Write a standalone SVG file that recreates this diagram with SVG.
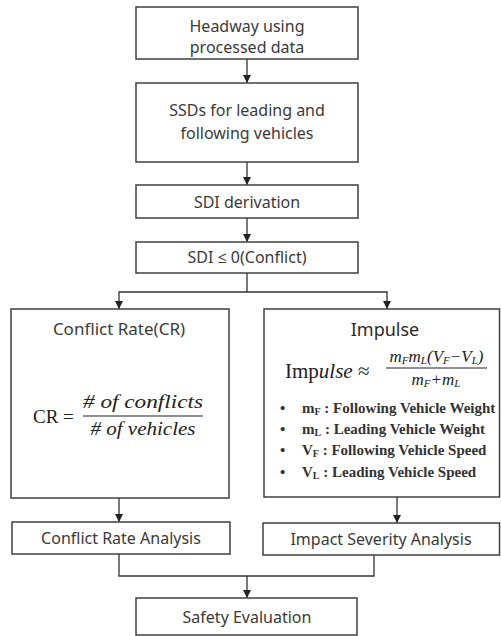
<svg xmlns="http://www.w3.org/2000/svg" width="501" height="636" viewBox="0 0 501 636">
<defs>
<marker id="arr" markerUnits="userSpaceOnUse" markerWidth="8" markerHeight="9" refX="8" refY="4" orient="auto" viewBox="0 0 8 8">
<path d="M0,0 L8,4 L0,8 Z" fill="#222"/>
</marker>
<style>
.box{fill:#fff;stroke:#404040;stroke-width:1.5}
.lbl{font-family:"Noto Sans","Open Sans",sans-serif;font-size:16px;fill:#3a3a3a;text-anchor:middle}
.ttl{font-family:"Noto Sans","Open Sans",sans-serif;font-size:18px;fill:#2a2a2a;text-anchor:middle}
.math{font-family:"Liberation Serif","DejaVu Serif",serif;fill:#222}
.it{font-style:italic}
.bul{font-family:"Liberation Serif","DejaVu Serif",serif;font-size:15px;font-weight:bold;fill:#333}
.sub{font-size:10px}
.msub{font-size:11px}
.con{fill:none;stroke:#333;stroke-width:1.3}
</style>
</defs>
<g id="connectors">
<path class="con" d="M247,59 V83" marker-end="url(#arr)"/>
<path class="con" d="M247,162 V185" marker-end="url(#arr)"/>
<path class="con" d="M247,218 V242" marker-end="url(#arr)"/>
<path class="con" d="M247,273 V292"/>
<path class="con" d="M247,292 H119 V309" marker-end="url(#arr)"/>
<path class="con" d="M247,292 H387 V309" marker-end="url(#arr)"/>
<path class="con" d="M119,498 V522" marker-end="url(#arr)"/>
<path class="con" d="M397,497 V523" marker-end="url(#arr)"/>
<path class="con" d="M119,554 V576 H374 V555"/>
<path class="con" d="M247,576 V598" marker-end="url(#arr)"/>
</g>
<g id="headway">
<rect class="box" x="136" y="7" width="222" height="52"/>
<text class="lbl" x="247" y="32">Headway using</text>
<text class="lbl" x="247" y="53">processed data</text>
</g>
<g id="ssds">
<rect class="box" x="136" y="83" width="222" height="79"/>
<text class="lbl" x="247" y="116">SSDs for leading and</text>
<text class="lbl" x="247" y="139">following vehicles</text>
</g>
<g id="sdi-derivation">
<rect class="box" x="136" y="185" width="222" height="33"/>
<text class="lbl" x="247" y="208">SDI derivation</text>
</g>
<g id="sdi-conflict">
<rect class="box" x="136" y="242" width="222" height="31"/>
<text class="lbl" x="247" y="263">SDI ≤ 0(Conflict)</text>
</g>
<g id="conflict-rate">
<rect class="box" x="11" y="309" width="218" height="189"/>
<text class="lbl" x="119" y="335" style="font-size:17px">Conflict Rate(CR)</text>
<text class="math" x="33" y="423" style="font-size:19px">CR =</text>
<text class="math it" x="143" y="408" style="font-size:18px;text-anchor:middle" textLength="120" lengthAdjust="spacingAndGlyphs"># of conflicts</text>
<line x1="83" y1="416" x2="203" y2="416" stroke="#222" stroke-width="1.2"/>
<text class="math it" x="143" y="435" style="font-size:18px;text-anchor:middle" textLength="105" lengthAdjust="spacingAndGlyphs"># of vehicles</text>
</g>
<g id="impulse">
<rect class="box" x="264" y="309" width="235.5" height="188"/>
<text class="ttl" x="385" y="336">Impulse</text>
<text class="math" x="285" y="378" style="font-size:21px">Imp<tspan class="it">ulse</tspan> ≈</text>
<text class="math it" x="436.5" y="362" style="font-size:17px;text-anchor:middle">m<tspan dy="2" class="msub">F</tspan><tspan dy="-2">m</tspan><tspan dy="2" class="msub">L</tspan><tspan dy="-2">(V</tspan><tspan dy="2" class="msub">F</tspan><tspan dy="-2">−V</tspan><tspan dy="2" class="msub">L</tspan><tspan dy="-2">)</tspan></text>
<line x1="386" y1="368" x2="487" y2="368" stroke="#222" stroke-width="1"/>
<text class="math it" x="436" y="385" style="font-size:17px;text-anchor:middle">m<tspan dy="2" class="msub">F</tspan><tspan dy="-2">+m</tspan><tspan dy="2" class="msub">L</tspan></text>
<text class="bul" x="280" y="413">•</text>
<text class="bul" x="302" y="413">m<tspan dy="2" class="sub">F</tspan><tspan dy="-2"> : Following Vehicle Weight</tspan></text>
<text class="bul" x="280" y="434">•</text>
<text class="bul" x="302" y="434">m<tspan dy="2" class="sub">L</tspan><tspan dy="-2"> : Leading Vehicle Weight</tspan></text>
<text class="bul" x="280" y="455">•</text>
<text class="bul" x="302" y="455">V<tspan dy="2" class="sub">F</tspan><tspan dy="-2"> : Following Vehicle Speed</tspan></text>
<text class="bul" x="280" y="477">•</text>
<text class="bul" x="302" y="477">V<tspan dy="2" class="sub">L</tspan><tspan dy="-2"> : Leading Vehicle Speed</tspan></text>
</g>
<g id="cr-analysis">
<rect class="box" x="12" y="522" width="218" height="32"/>
<text class="lbl" x="121" y="544">Conflict Rate Analysis</text>
</g>
<g id="impact-analysis">
<rect class="box" x="263" y="523" width="236.5" height="32"/>
<text class="lbl" x="381" y="545">Impact Severity Analysis</text>
</g>
<g id="safety">
<rect class="box" x="136" y="598" width="221" height="37"/>
<text class="lbl" x="247" y="623">Safety Evaluation</text>
</g>
</svg>
